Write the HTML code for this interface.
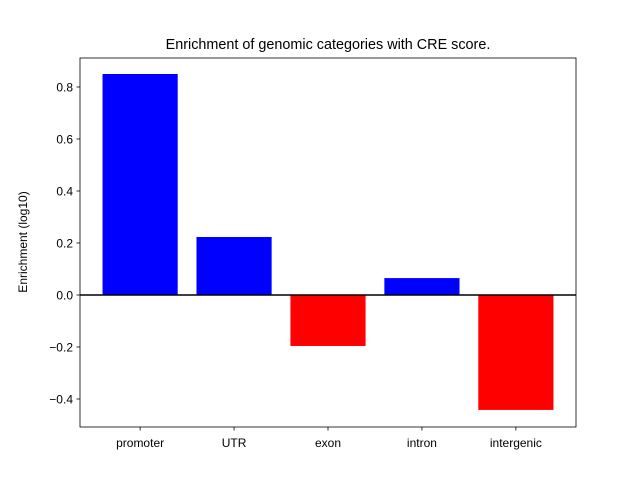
<!DOCTYPE html>
<html><head><meta charset="utf-8"><style>
body{margin:0;background:#fff;}
svg{display:block;font-family:"Liberation Sans","DejaVu Sans",sans-serif;}
</style></head><body>
<svg id="chart" width="640" height="480">
<rect width="640" height="480" fill="#fff"/>
<text x="328" y="49" text-anchor="middle" font-size="14.4">Enrichment of genomic categories with CRE score.</text>
<text transform="translate(27,242) rotate(-90)" text-anchor="middle" font-size="12">Enrichment (log10)</text>
<g id="bars"></g>
<g id="yticks"></g>
<g id="xticks"></g>
<rect x="80" y="58" width="496" height="369" fill="none" stroke="#000" stroke-width="0.8"/>
</svg>
<script>
const categories=["promoter","UTR","exon","intron","intergenic"];
const values=[0.85,0.223,-0.196,0.065,-0.442];
const yTickLabels=["−0.4","−0.2","0.0","0.2","0.4","0.6","0.8"];
const yTickValues=[-0.4,-0.2,0,0.2,0.4,0.6,0.8];
const L=80,R=576,T=58,B=427;
const ymin=-0.5077,ymax=0.9115,xmin=-0.64,xmax=4.64;
const sx=v=>L+(v-xmin)/(xmax-xmin)*(R-L);
const sy=v=>B-(v-ymin)/(ymax-ymin)*(B-T);
const NS="http://www.w3.org/2000/svg";
const bars=document.getElementById('bars');
categories.forEach((c,i)=>{
  const v=values[i];
  const r=document.createElementNS(NS,'rect');
  r.setAttribute('x',sx(i-0.4));r.setAttribute('width',sx(i+0.4)-sx(i-0.4));
  r.setAttribute('y',Math.min(sy(v),sy(0)));r.setAttribute('height',Math.abs(sy(v)-sy(0)));
  r.setAttribute('fill',v>=0?'#0000ff':'#ff0000');
  
  
  bars.appendChild(r);
  const xt=document.getElementById('xticks');
  const tk=document.createElementNS(NS,'line');
  tk.setAttribute('x1',sx(i));tk.setAttribute('x2',sx(i));tk.setAttribute('y1',B);tk.setAttribute('y2',B+3.5);tk.setAttribute('stroke','#000');tk.setAttribute('stroke-width','0.8');
  
  
  xt.appendChild(tk);
  const t=document.createElementNS(NS,'text');
  t.setAttribute('x',sx(i));t.setAttribute('y',B+20);t.setAttribute('text-anchor','middle');t.setAttribute('font-size','12');
  t.textContent=c;
  
  
  xt.appendChild(t);
});
const zl=document.createElementNS(NS,'line');
zl.setAttribute('x1',L);zl.setAttribute('x2',R);zl.setAttribute('y1',sy(0));zl.setAttribute('y2',sy(0));zl.setAttribute('stroke','#000');zl.setAttribute('stroke-width','1.5');


bars.appendChild(zl);
const yt=document.getElementById('yticks');
yTickValues.forEach((v,i)=>{
  const y=sy(v);
  const tk=document.createElementNS(NS,'line');
  tk.setAttribute('x1',L-3.5);tk.setAttribute('x2',L);tk.setAttribute('y1',y);tk.setAttribute('y2',y);tk.setAttribute('stroke','#000');tk.setAttribute('stroke-width','0.8');
  
  
  yt.appendChild(tk);
  const t=document.createElementNS(NS,'text');
  t.setAttribute('x',L-7);t.setAttribute('y',y+4.5);t.setAttribute('text-anchor','end');t.setAttribute('font-size','12');
  t.textContent=yTickLabels[i];
  
  
  yt.appendChild(t);
});
</script>
</body></html>
